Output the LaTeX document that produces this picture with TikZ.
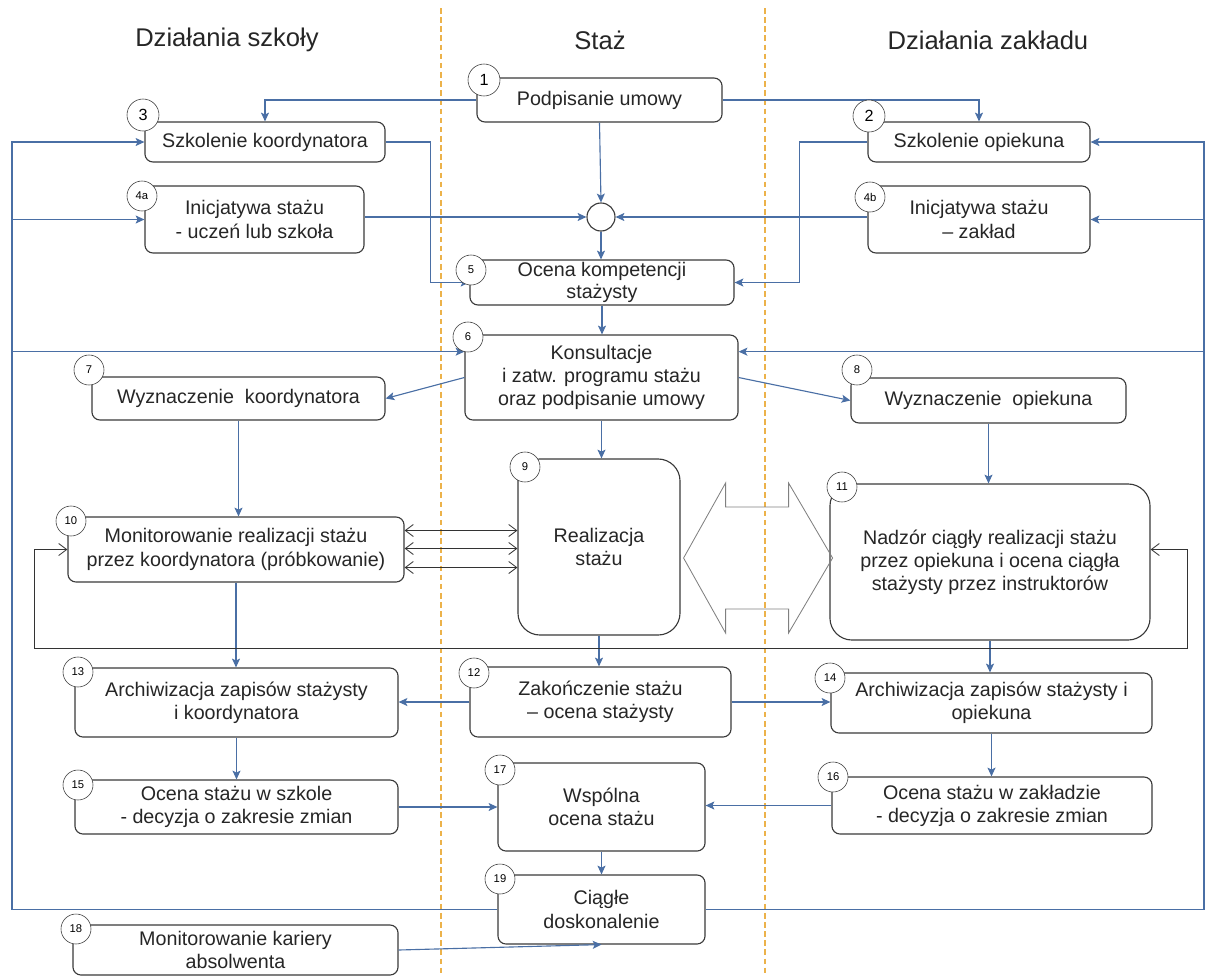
\documentclass[tikz,border=0pt]{standalone}
\usepackage{fontspec}
\setmainfont{Liberation Sans}
\usetikzlibrary{arrows.meta, calc}
\definecolor{wline}{HTML}{4A6FA5}
\definecolor{wlane}{HTML}{ECB24A}
\definecolor{wbox}{HTML}{3A3A3A}
\definecolor{wgrey}{HTML}{808080}
\tikzset{
  box/.style={draw=wbox, line width=0.8pt, rounded corners=0.2cm, fill=white, align=center, inner sep=0pt, text=black!85, font=\fontsize{14}{16.5}\selectfont},
  bigbox/.style={box, rounded corners=0.55cm},
  num/.style={draw=wbox, circle, fill=white, inner sep=0pt, minimum size=0.75cm, font=\fontsize{8}{9}\selectfont},
  bignum/.style={num, minimum size=0.8cm, font=\fontsize{11.5}{12}\selectfont},
  flow/.style={draw=wline, line width=0.8pt, -{Stealth[length=2.2mm, width=2mm, inset=0.5mm]}},
  ctrl/.style={draw=black!80, line width=0.6pt, {Straight Barb[length=2mm, width=3mm]}-{Straight Barb[length=2mm, width=3mm]}},
  lane/.style={draw=wlane, dash pattern=on 4pt off 2.5pt, line width=0.8pt},
  lanehead/.style={font=\fontsize{18.2}{20}\selectfont, text=black!85}
}

\begin{document}
\begin{tikzpicture}[x=0.025cm, y=-0.025cm]
  \useasboundingbox (0,0) rectangle (1206,976);

  \draw[lane] (441,8) -- (441,976);
  \draw[lane] (765,8) -- (765,976);
  \node[lanehead] (tschool) at (227,40) {Działania szkoły};
  \node[lanehead] (tstaz) at (600,40) {Staż};
  \node[lanehead] (tfirm) at (988,40) {Działania zakładu};

  \node[box, minimum width=6.125cm, minimum height=1.1cm] (b1) at (599.5,100) {Podpisanie umowy};
  \node[box, minimum width=6cm, minimum height=1cm] (b3) at (265,142) {Szkolenie koordynatora};
  \node[box, minimum width=5.55cm, minimum height=1cm] (b2) at (979,142) {Szkolenie opiekuna};
  \node[box, minimum width=5.475cm, minimum height=1.675cm] (b4a) at (254.5,219.5) {Inicjatywa stażu\\- uczeń lub szkoła};
  \node[box, minimum width=5.55cm, minimum height=1.675cm] (b4b) at (979,219.5) {Inicjatywa stażu\\– zakład};
  \node[draw=wbox, circle, line width=0.8pt, minimum size=0.7cm, inner sep=0pt] (jn) at (601,217) {};
  \node[box, minimum width=6.6cm, minimum height=1.125cm, font=\fontsize{14}{15.5}\selectfont] (b5) at (602,282.5) {Ocena kompetencji\\stażysty};
  \node[box, minimum width=6.825cm, minimum height=2.125cm] (b6) at (601.5,377.5) {Konsultacje\\i zatw. programu stażu\\oraz podpisanie umowy};
  \node[box, minimum width=7.325cm, minimum height=1.075cm] (b7) at (238.5,398.5) {Wyznaczenie~~koordynatora};
  \node[box, minimum width=6.875cm, minimum height=1.125cm] (b8) at (988.5,400.5) {Wyznaczenie~~opiekuna};
  \node[bigbox, minimum width=4.05cm, minimum height=4.4cm] (b9) at (599,547) {Realizacja\\stażu};
  \node[box, minimum width=8.4cm, minimum height=1.625cm] (b10) at (236,549.5) {Monitorowanie realizacji stażu\\przez koordynatora (próbkowanie)};
  \node[bigbox, minimum width=8cm, minimum height=3.9cm] (b11) at (990,562) {Nadzór ciągły realizacji stażu\\przez opiekuna i ocena ciągła\\stażysty przez instruktorów};
  \node[box, minimum width=6.525cm, minimum height=1.75cm] (b12) at (600.5,702) {Zakończenie stażu\\– ocena stażysty};
  \node[box, minimum width=8.075cm, minimum height=1.725cm] (b13) at (236.5,702.5) {Archiwizacja zapisów stażysty\\i koordynatora};
  \node[box, minimum width=8.025cm, minimum height=1.5cm] (b14) at (991.5,703) {Archiwizacja zapisów stażysty i\\opiekuna};
  \node[box, minimum width=8.075cm, minimum height=1.35cm] (b15) at (236.5,807) {Ocena stażu w szkole\\- decyzja o zakresie zmian};
  \node[box, minimum width=8cm, minimum height=1.425cm] (b16) at (992,805.5) {Ocena stażu w zakładzie\\- decyzja o zakresie zmian};
  \node[box, minimum width=5.175cm, minimum height=2.2cm] (b17) at (601.5,807) {Wspólna\\ocena stażu};
  \node[box, minimum width=5.175cm, minimum height=1.725cm] (b19) at (601.5,909.5) {Ciągłe\\doskonalenie};
  \node[box, minimum width=8.125cm, minimum height=1.25cm] (b18) at (235.5,950) {Monitorowanie kariery\\absolwenta};

  \draw[flow] (b1.west) -| (b3.north);
  \draw[flow] (b1.east) -| (b2.north);
  \draw[flow] (b1.south) -- (jn.north);
  \draw[flow] (b4a.east |- jn) -- (jn.west);
  \draw[flow] (b4b.west |- jn) -- (jn.east);
  \draw[flow] (jn.south) -- (jn.south |- b5.north);
  \draw[flow] (b3.east) -- ++(45,0) |- (b5.west);
  \draw[flow] (b2.west) -- ++(-68,0) |- (b5.east);
  \draw[flow] (b5.south) -- (b5.south |- b6.north);
  \draw[flow] (b6.west) -- (b7.east);
  \draw[flow] (b6.east) -- (b8.west);
  \draw[flow] (b6.south) -- (b6.south |- b9.north);
  \draw[flow] (b7.south) -- (b7.south |- b10.north);
  \draw[flow] (b8.south) -- (b8.south |- b11.north);
  \draw[flow] (b10.south) -- (b10.south |- b13.north);
  \draw[flow] (b9.south) -- (b9.south |- b12.north);
  \draw[flow] (b11.south) -- (b11.south |- b14.north);
  \draw[flow] (b12.west) -- (b13.east |- b12.west);
  \draw[flow] (b12.east) -- (b14.west |- b12.east);
  \draw[flow] (b13.south) -- (b13.south |- b15.north);
  \draw[flow] (b14.south) -- (b14.south |- b16.north);
  \draw[flow] (b15.east) -- (b17.west |- b15.east);
  \draw[flow] (b16.west) -- (b17.east |- b16.west);
  \draw[flow] (b17.south) -- (b19.north);
  \draw[flow] (b18.east) -- (b19.south);

  % feedback from 19 back to the start
  \coordinate (lbus) at (12,0);
  \coordinate (rbus) at (1204,0);
  \coordinate (k6w) at ($(b6.north west)!0.2!(b6.south west)$);
  \coordinate (k6e) at ($(b6.north east)!0.2!(b6.south east)$);
  \draw[flow] (b19.west) -| (lbus |- b3.west) -- (b3.west);
  \draw[flow] (lbus |- b4a.west) -- (b4a.west);
  \draw[flow] (lbus |- k6w) -- (k6w);
  \draw[flow] (b19.east) -| (rbus |- b2.east) -- (b2.east);
  \draw[flow] (rbus |- b4b.east) -- (b4b.east);
  \draw[flow] (rbus |- k6e) -- (k6e);

  \foreach \dy in {-19,-1,18}
    \draw[ctrl] ($(b10.east)+(0,\dy)$) -- ($(b9.west |- b10.east)+(0,\dy)$);
  \draw[ctrl] (b10.west) -- ++(-33,0) -- ++(0,99) -| ($(b11.east |- b10.west)+(37,0)$) -- (b11.east |- b10.west);

  \draw[draw=wgrey, line width=0.6pt] ($(b9.east)+(3,11)$) -- ++(42,-75) -- ++(0,24) -- ++(63,0) -- ++(0,-24) -- ++(44,75) -- ++(-44,75) -- ++(0,-24) -- ++(-63,0) -- ++(0,24) -- cycle;

  \node[bignum] (n1) at (484,80) {1};
  \node[bignum] (n3) at (143,115) {3};
  \node[bignum] (n2) at (869,116) {2};
  \node[num] (n4a) at (142,196) {4a};
  \node[num] (n4b) at (870,197) {4b};
  \node[num] (n5) at (471,270) {5};
  \node[num] (n6) at (468,337) {6};
  \node[num] (n7) at (89,370) {7};
  \node[num] (n8) at (857,370) {8};
  \node[num] (n9) at (525,467) {9};
  \node[num] (n10) at (71,521) {10};
  \node[num] (n11) at (842,487) {11};
  \node[num] (n12) at (474,673) {12};
  \node[num] (n13) at (78,672) {13};
  \node[num] (n14) at (830,678) {14};
  \node[num] (n15) at (78,785) {15};
  \node[num] (n16) at (833,777) {16};
  \node[num] (n17) at (500,770) {17};
  \node[num] (n19) at (500,879) {19};
  \node[num] (n18) at (76,929) {18};
\end{tikzpicture}
\end{document}
